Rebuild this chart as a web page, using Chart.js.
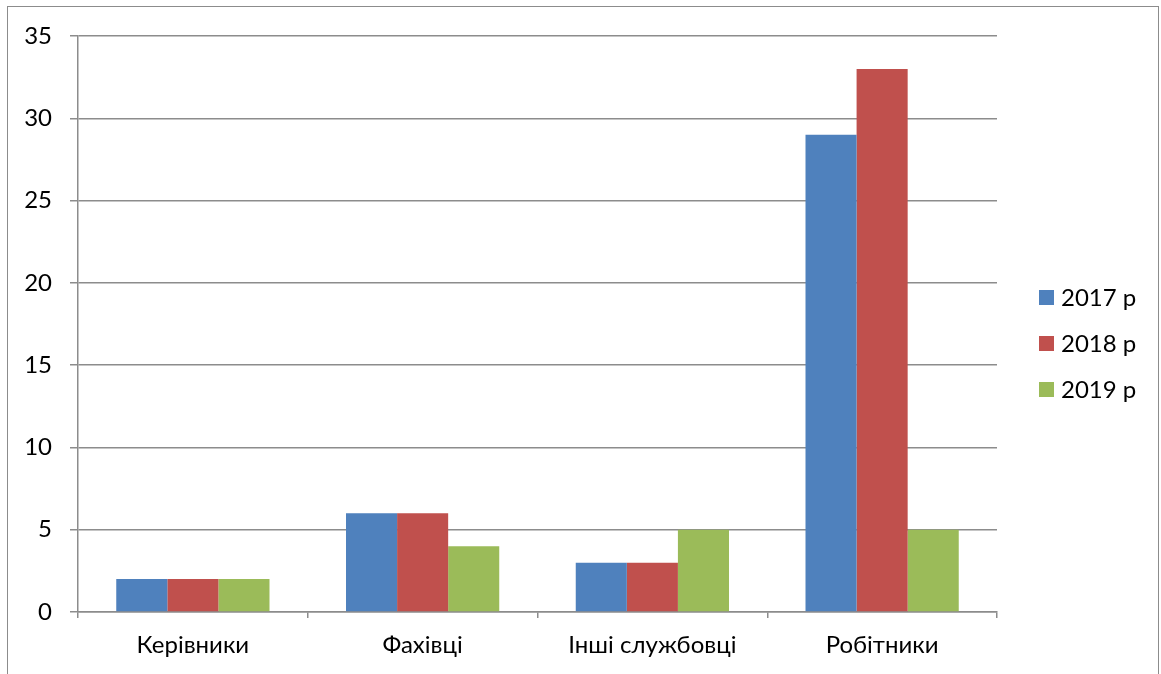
<!DOCTYPE html>
<html>
<head>
<meta charset="utf-8">
<script src="https://cdn.jsdelivr.net/npm/chart.js@4/dist/chart.umd.min.js"></script>
<style>
  html, body { margin: 0; padding: 0; background: #fff; }
  #wrap { position: relative; width: 1161px; height: 674px; overflow: hidden; }
  #frame { position: absolute; left: 7px; top: 6px; width: 1152px; height: 700px;
           border: 1.5px solid #8c8c8c; box-sizing: border-box; }
  canvas { position: absolute; left: 0; top: 0; }
</style>
</head>
<body>
<div id="wrap">
  <div id="frame"></div>
  <canvas id="c" width="1161" height="674"></canvas>
</div>
<script>
const categories = ['Керівники', 'Фахівці', 'Інші службовці', 'Робітники'];
const seriesNames = ['2017 р', '2018 р', '2019 р'];
const values2017 = [2, 6, 3, 29];
const values2018 = [2, 6, 3, 33];
const values2019 = [2, 4, 5, 5];
const yTicks = [0, 5, 10, 15, 20, 25, 30, 35];

const colors = ['#4F81BD', '#C0504D', '#9BBB59'];
const FONT = 'Lato, "Open Sans", sans-serif';
const gridColor = '#8c8c8c';

// Legend drawn to the right of the plot, one row per series
const sideLegend = {
  id: 'sideLegend',
  afterDraw(chart) {
    const ctx = chart.ctx;
    const rows = [297, 343, 389];
    ctx.save();
    ctx.font = '24px ' + FONT;
    ctx.textBaseline = 'middle';
    ctx.textAlign = 'left';
    chart.data.datasets.forEach((ds, i) => {
      const y = rows[i];
      ctx.fillStyle = ds.backgroundColor;
      ctx.fillRect(1039, y - 7, 15, 15);
      ctx.fillStyle = '#000';
      ctx.fillText(ds.label, 1061, y + 1);
    });
    ctx.restore();
  }
};

new Chart(document.getElementById('c'), {
  type: 'bar',
  data: {
    labels: categories,
    datasets: [
      { label: seriesNames[0], data: values2017, backgroundColor: colors[0] },
      { label: seriesNames[1], data: values2018, backgroundColor: colors[1] },
      { label: seriesNames[2], data: values2019, backgroundColor: colors[2] }
    ]
  },
  options: {
    responsive: false,
    animation: false,
    devicePixelRatio: 1,
    layout: { padding: { top: 36, right: 164, left: 0, bottom: 0 } },
    datasets: { bar: { barPercentage: 1, categoryPercentage: 0.667, borderWidth: 0 } },
    plugins: { legend: { display: false }, tooltip: { enabled: false } },
    scales: {
      x: {
        offset: true,
        afterFit(s) { s.height = 62; },
        grid: { offset: true, drawOnChartArea: false, drawTicks: true, tickLength: 6,
                color: gridColor, lineWidth: 1.5 },
        border: { display: true, color: gridColor, width: 1.5 },
        ticks: { color: '#000', font: { family: FONT, size: 24 }, padding: 13, maxRotation: 0 }
      },
      y: {
        min: 0, max: 35,
        afterFit(s) { s.width = 78; },
        afterBuildTicks(s) { s.ticks = yTicks.map(v => ({ value: v })); },
        grid: { color: gridColor, lineWidth: 1.5, drawTicks: true, tickLength: 8 },
        border: { display: true, color: gridColor, width: 1.5 },
        ticks: { color: '#000', font: { family: FONT, size: 24 }, padding: 18 }
      }
    }
  },
  plugins: [sideLegend]
});
</script>
</body>
</html>
